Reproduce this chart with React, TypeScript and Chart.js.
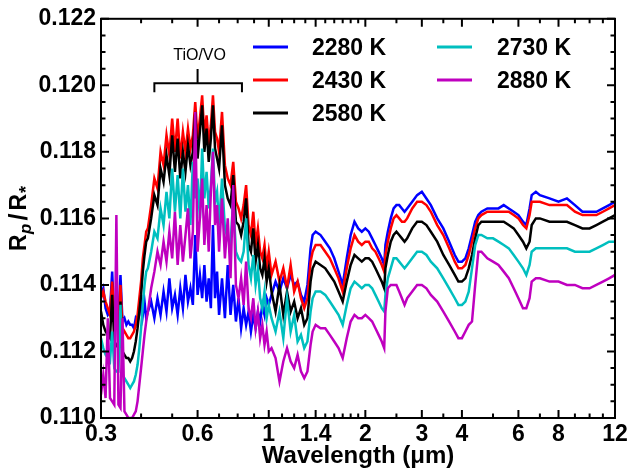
import React, { useEffect, useRef } from "react";
import { Chart, registerables } from "chart.js";

Chart.register(...registerables);

// ---------------- data ----------------
const wavelength = [
  // 0.30 - 0.415
  0.3, 0.305, 0.31, 0.315, 0.32, 0.325, 0.33, 0.335, 0.34, 0.345, 0.35, 0.355,
  0.36, 0.365, 0.37, 0.375, 0.38, 0.385, 0.39, 0.395, 0.4, 0.405, 0.41, 0.415,
  // 0.42 - 1.00 (TiO/VO)
  0.42, 0.43, 0.44, 0.45, 0.46, 0.47, 0.48, 0.49, 0.5, 0.51, 0.52, 0.53, 0.54, 0.55,
  0.56, 0.57, 0.58, 0.59, 0.6, 0.61, 0.62, 0.63, 0.64, 0.65, 0.66, 0.67, 0.68, 0.69, 0.7,
  0.715, 0.73, 0.745, 0.76, 0.775, 0.79, 0.805, 0.82, 0.835, 0.85, 0.865, 0.88, 0.895,
  0.91, 0.925, 0.94, 0.955, 0.97, 0.985, 1.0,
  // 1.02 - 1.40
  1.02, 1.05, 1.08, 1.11, 1.14, 1.17, 1.2, 1.23, 1.26, 1.29, 1.32, 1.35, 1.37, 1.4,
  // 1.45 - 12
  1.45, 1.5, 1.55, 1.6, 1.65, 1.7, 1.75, 1.8, 1.85, 1.9,
  1.95, 2.0, 2.05, 2.1, 2.15, 2.2, 2.25, 2.29, 2.31, 2.35,
  2.4, 2.45, 2.5, 2.55, 2.6, 2.65, 2.7, 2.8, 2.9, 3.0,
  3.1, 3.2, 3.35, 3.5, 3.65, 3.8, 3.9, 4.0, 4.1, 4.2,
  4.3, 4.4, 4.5, 4.6, 4.8, 5.0, 5.2, 5.4, 5.6, 5.8,
  6.0, 6.2, 6.35, 6.5, 6.6, 6.8, 7.0, 7.5, 8.0, 8.5,
  9.0, 9.5, 10, 10.5, 11, 11.5, 12,
];

const rp2280 = [
  0.1137, 0.1139, 0.1133, 0.1131, 0.1132, 0.1144, 0.113, 0.1129, 0.113, 0.1143, 0.1129, 0.113,
  0.1128, 0.1129, 0.1128, 0.1128, 0.1127, 0.113, 0.1129, 0.1131, 0.1137, 0.1131, 0.1135, 0.113,
  0.1132, 0.1135, 0.113, 0.1136, 0.1131, 0.1138, 0.1132, 0.1142, 0.1133, 0.1137, 0.1131, 0.1139, 0.1133, 0.1143,
  0.1135, 0.1139, 0.1134, 0.1155, 0.1137, 0.1143, 0.1136, 0.1146, 0.1135, 0.1142, 0.1133, 0.1158, 0.1136, 0.1144, 0.1131,
  0.1142, 0.113, 0.1146, 0.1131, 0.114, 0.1129, 0.1136, 0.1127, 0.1133, 0.1128, 0.1132, 0.1126, 0.1131,
  0.1127, 0.1132, 0.1129, 0.1134, 0.1131, 0.1136, 0.1134,
  0.1137, 0.1141, 0.1138, 0.1142, 0.1139, 0.1143, 0.114, 0.1141, 0.1137, 0.1135, 0.114, 0.1151, 0.1155, 0.1156,
  0.1155, 0.1153, 0.1151, 0.1148, 0.1144, 0.114, 0.1148, 0.1155, 0.1159, 0.1157,
  0.1156, 0.1157, 0.1156, 0.1154, 0.1152, 0.115, 0.1148, 0.1146, 0.1152, 0.1156,
  0.116, 0.1163, 0.1164, 0.1164, 0.1163, 0.1162, 0.1163, 0.1165, 0.1167, 0.1168,
  0.1166, 0.1164, 0.116, 0.1157, 0.1153, 0.1149, 0.1147, 0.1147, 0.1148, 0.1151,
  0.1155, 0.1159, 0.1161, 0.1162, 0.1163, 0.1163, 0.1163, 0.1164, 0.1163, 0.1162,
  0.1161, 0.1159, 0.1158, 0.1163, 0.1167, 0.1168, 0.1167, 0.1166, 0.1165, 0.1166,
  0.1164, 0.1162, 0.1162, 0.1162, 0.1163, 0.1164, 0.1165,
];

const rp2430 = [
  0.1136, 0.1138, 0.1135, 0.1133, 0.1131, 0.1141, 0.113, 0.1129, 0.1128, 0.114, 0.1127, 0.1126,
  0.1125, 0.1124, 0.1124, 0.1125, 0.1126, 0.1128, 0.1131, 0.1136, 0.1141, 0.1148, 0.1152, 0.1156,
  0.1157, 0.1164, 0.1172, 0.1169, 0.118, 0.1176, 0.1185, 0.1179, 0.119, 0.118, 0.119, 0.1178, 0.1186, 0.118,
  0.1187, 0.1181, 0.1185, 0.1195, 0.1184, 0.119, 0.1197, 0.1185, 0.1191, 0.1182, 0.1188, 0.1197, 0.1186, 0.1184, 0.118,
  0.1192, 0.1176, 0.1172, 0.117, 0.1177, 0.1165, 0.1163, 0.116, 0.1164, 0.117, 0.1158, 0.1155, 0.1162,
  0.1152, 0.1157, 0.115, 0.1148, 0.1152, 0.1145, 0.115,
  0.1143, 0.1147, 0.1141, 0.1145, 0.1139, 0.1146, 0.1138, 0.1141, 0.1136, 0.1133, 0.1136, 0.1147, 0.115, 0.1152,
  0.1152, 0.115, 0.1148, 0.1145, 0.1142, 0.1138, 0.1145, 0.1151, 0.1155, 0.1153,
  0.1152, 0.1153, 0.1153, 0.1151, 0.115, 0.1148, 0.1146, 0.1144, 0.1149, 0.1153,
  0.1157, 0.116, 0.1161, 0.116, 0.1159, 0.1159, 0.116, 0.1163, 0.1165, 0.1165,
  0.1164, 0.1162, 0.1158, 0.1155, 0.1151, 0.1147, 0.1145, 0.1145, 0.1146, 0.1149,
  0.1153, 0.1157, 0.116, 0.1161, 0.1162, 0.1162, 0.1162, 0.1162, 0.1162, 0.1161,
  0.116, 0.1158, 0.1157, 0.1161, 0.1165, 0.1165, 0.1165, 0.1164, 0.1164, 0.1164,
  0.1162, 0.1161, 0.1161, 0.1161, 0.1162, 0.1163, 0.1164,
];

const rp2580 = [
  0.1132, 0.1128, 0.1126, 0.1125, 0.1124, 0.1137, 0.1123, 0.1122, 0.1121, 0.1135, 0.112, 0.1119,
  0.1118, 0.1118, 0.1117, 0.1118, 0.112, 0.1123, 0.1127, 0.1132, 0.1137, 0.1144, 0.1149, 0.1153,
  0.1154, 0.116, 0.1167, 0.1164, 0.1175, 0.1171, 0.1179, 0.1173, 0.1185, 0.1174, 0.1184, 0.1172, 0.118, 0.1174,
  0.1182, 0.1176, 0.118, 0.1192, 0.1178, 0.1186, 0.1194, 0.118, 0.1187, 0.1177, 0.1184, 0.1194, 0.1181, 0.1178, 0.1175,
  0.1188, 0.117, 0.1166, 0.1164, 0.1173, 0.1159, 0.1158, 0.1155, 0.1159, 0.1166, 0.1152, 0.115, 0.1157,
  0.1147, 0.1152, 0.1145, 0.1143, 0.1148, 0.1141, 0.1145,
  0.1138, 0.1132, 0.114, 0.1131, 0.1138, 0.1132, 0.1135, 0.113, 0.1133, 0.1128, 0.113, 0.1141, 0.1145, 0.1147,
  0.1146, 0.1145, 0.1143, 0.1141, 0.1138, 0.1135, 0.1141, 0.1146, 0.1149, 0.1148,
  0.1147, 0.1148, 0.1148, 0.1147, 0.1145, 0.1143, 0.1141, 0.1139, 0.1145, 0.1149,
  0.1153, 0.1155, 0.1156, 0.1155, 0.1154, 0.1153, 0.1154, 0.1157, 0.1159, 0.1159,
  0.1158, 0.1156, 0.1153, 0.1149, 0.1146, 0.1143, 0.1141, 0.1141, 0.1142, 0.1145,
  0.1149, 0.1154, 0.1158, 0.1159, 0.1159, 0.1159, 0.1159, 0.1159, 0.1158, 0.1157,
  0.1155, 0.1153, 0.1151, 0.1153, 0.1158, 0.116, 0.116, 0.1159, 0.1159, 0.1159,
  0.1158, 0.1157, 0.1157, 0.1158, 0.1159, 0.116, 0.1161,
];

const rp2730 = [
  0.1124, 0.1121, 0.1119, 0.1118, 0.1117, 0.1126, 0.1115, 0.1114, 0.1114, 0.1134, 0.1113, 0.1112,
  0.1111, 0.111, 0.1109, 0.111, 0.1111, 0.1113, 0.1116, 0.1121, 0.1127, 0.1134, 0.114, 0.1144,
  0.1145, 0.115, 0.1156, 0.1154, 0.1163, 0.1158, 0.1168, 0.116, 0.1175, 0.1162, 0.1173, 0.116, 0.1175, 0.1162,
  0.117, 0.1158, 0.1177, 0.1166, 0.1172, 0.116, 0.1181, 0.1166, 0.1174, 0.1163, 0.117, 0.1181, 0.1165, 0.1168, 0.1158,
  0.1172, 0.1157, 0.1154, 0.1152, 0.1166, 0.115, 0.1148, 0.1147, 0.115, 0.116, 0.1146, 0.1142, 0.1149,
  0.114, 0.1145, 0.1136, 0.1133, 0.1138, 0.113, 0.1134,
  0.113, 0.1126, 0.1132, 0.1124, 0.1136, 0.1126, 0.1131, 0.1123, 0.1125, 0.1121, 0.1123, 0.1132, 0.1136, 0.1138,
  0.1138, 0.1137, 0.1135, 0.1133, 0.1131, 0.1128, 0.1134, 0.1139, 0.1141, 0.114,
  0.1139, 0.114, 0.114, 0.1139, 0.1137, 0.1135, 0.1133, 0.1132, 0.1137, 0.1142,
  0.1145, 0.1148, 0.1148, 0.1147, 0.1146, 0.1145, 0.1146, 0.1148, 0.115, 0.115,
  0.1149, 0.1147, 0.1145, 0.1142, 0.1139, 0.1136, 0.1134, 0.1134, 0.1135, 0.1138,
  0.1145, 0.1152, 0.1155, 0.1155, 0.1154, 0.1154, 0.1153, 0.1152, 0.1151, 0.1149,
  0.1147, 0.1145, 0.1143, 0.1146, 0.115, 0.1151, 0.1151, 0.1151, 0.1151, 0.1151,
  0.115, 0.115, 0.115, 0.1151, 0.1152, 0.1153, 0.1153,
];

const rp2880 = [
  0.1107, 0.1113, 0.1106, 0.113, 0.1106, 0.1105, 0.1104, 0.1161, 0.1104, 0.1103, 0.113, 0.1102,
  0.1101, 0.11, 0.11, 0.11, 0.1101, 0.1102, 0.1105, 0.111, 0.1115, 0.112, 0.1125, 0.1129,
  0.1132, 0.1139, 0.1144, 0.115, 0.1146, 0.1153, 0.1147, 0.1156, 0.1148, 0.1162, 0.1146, 0.1158, 0.1147, 0.1155,
  0.1163, 0.1148, 0.1156, 0.1192, 0.115, 0.116, 0.1172, 0.1152, 0.1164, 0.115, 0.1168, 0.118, 0.1158, 0.1164, 0.115,
  0.1166, 0.1148, 0.116, 0.1142, 0.117, 0.114, 0.1136, 0.1142, 0.1134, 0.1147, 0.1133, 0.113, 0.1136,
  0.1127, 0.1132, 0.1124, 0.1128, 0.1122, 0.1126, 0.112,
  0.1121, 0.1118, 0.1111, 0.1117, 0.1121, 0.1117, 0.1115, 0.1119, 0.1114, 0.1112, 0.1114, 0.1122, 0.1126, 0.1128,
  0.1127, 0.1127, 0.1125, 0.1123, 0.1121, 0.1118, 0.1124, 0.1129, 0.1131, 0.113,
  0.113, 0.1131, 0.113, 0.1129, 0.1127, 0.1125, 0.1123, 0.1121, 0.1132, 0.1139,
  0.114, 0.114, 0.114, 0.1138, 0.1136, 0.1134, 0.1136, 0.1138, 0.114, 0.114,
  0.1139, 0.1137, 0.1135, 0.1132, 0.1129, 0.1126, 0.1124, 0.1124, 0.1126, 0.1128,
  0.1129, 0.114, 0.115, 0.115, 0.1148, 0.1147, 0.1146, 0.1144, 0.1142, 0.1139,
  0.1136, 0.1133, 0.1133, 0.1136, 0.1141, 0.1142, 0.1142, 0.1141, 0.1141, 0.114,
  0.114, 0.1139, 0.1139, 0.114, 0.1141, 0.1142, 0.1143,
];

const seriesLabels = ["2280 K", "2430 K", "2580 K", "2730 K", "2880 K"];
const seriesValues = [rp2280, rp2430, rp2580, rp2730, rp2880];
const seriesColors = ["#0000ff", "#ff0000", "#000000", "#00bfbf", "#bf00bf"];

const xTickValues = [
  0.3, 0.4, 0.5, 0.6, 0.7, 0.8, 0.9, 1, 1.1, 1.2, 1.3, 1.4, 1.5, 1.6, 1.7, 1.8, 1.9, 2,
  2.5, 3, 3.5, 4, 5, 6, 7, 8, 9, 10, 11, 12,
];
const xLabelValues = [0.3, 0.6, 1, 1.4, 2, 3, 4, 6, 8, 12];
const yTickValues = [
  0.11, 0.1105, 0.111, 0.1115, 0.112, 0.1125, 0.113, 0.1135, 0.114, 0.1145, 0.115, 0.1155,
  0.116, 0.1165, 0.117, 0.1175, 0.118, 0.1185, 0.119, 0.1195, 0.12, 0.1205, 0.121, 0.1215, 0.122,
];
const yLabelValues = [0.11, 0.112, 0.114, 0.116, 0.118, 0.12, 0.122];

// TiO/VO bracket annotation (data coordinates)
const bracketX = [0.44, 0.6, 0.825];
const bracketY = { bar: 0.12006, ends: 0.11979, stem: 0.12049, text: 0.12089 };

const FONT = "'Liberation Sans', Arial, Helvetica, sans-serif";

const isLabel = (list: number[], v: number) => list.some((l) => Math.abs(l - v) < 1e-9);

const decorPlugin = {
  id: "decor",
  afterDraw(chart: any) {
    const { ctx, chartArea, scales } = chart;
    const { left, right, top, bottom } = chartArea;
    const xs = scales.x;
    const ys = scales.y;
    ctx.save();
    // ticks (inward) on all four sides
    ctx.strokeStyle = "#000";
    ctx.lineWidth = 2;
    ctx.beginPath();
    xs.ticks.forEach((t: any) => {
      const px = xs.getPixelForValue(t.value);
      const len = isLabel(xLabelValues, t.value) ? 8 : 4.5;
      ctx.moveTo(px, bottom);
      ctx.lineTo(px, bottom - len);
      ctx.moveTo(px, top);
      ctx.lineTo(px, top + len);
    });
    ys.ticks.forEach((t: any) => {
      const py = ys.getPixelForValue(t.value);
      const len = isLabel(yLabelValues, t.value) ? 8 : 4.5;
      ctx.moveTo(left, py);
      ctx.lineTo(left + len, py);
      ctx.moveTo(right, py);
      ctx.lineTo(right - len, py);
    });
    ctx.stroke();
    ctx.strokeRect(left, top, right - left, bottom - top);

    // TiO/VO bracket
    const bx0 = xs.getPixelForValue(bracketX[0]);
    const bxm = xs.getPixelForValue(bracketX[1]);
    const bx1 = xs.getPixelForValue(bracketX[2]);
    const by = ys.getPixelForValue(bracketY.bar);
    const be = ys.getPixelForValue(bracketY.ends);
    const bs = ys.getPixelForValue(bracketY.stem);
    ctx.lineWidth = 2;
    ctx.beginPath();
    ctx.moveTo(bx0, be);
    ctx.lineTo(bx0, by);
    ctx.lineTo(bx1, by);
    ctx.lineTo(bx1, be);
    ctx.moveTo(bxm, by);
    ctx.lineTo(bxm, bs);
    ctx.stroke();
    ctx.fillStyle = "#000";
    ctx.font = `16px ${FONT}`;
    ctx.textAlign = "center";
    ctx.textBaseline = "middle";
    ctx.fillText("TiO/VO", bxm + 2, ys.getPixelForValue(bracketY.text));

    // legend (two columns)
    const legendPos = [
      { lx: 253, tx: 312, y: 47 },
      { lx: 253, tx: 312, y: 80 },
      { lx: 253, tx: 312, y: 113 },
      { lx: 437, tx: 497, y: 47 },
      { lx: 437, tx: 497, y: 80 },
    ];
    ctx.font = `bold 23px ${FONT}`;
    ctx.textAlign = "left";
    ctx.textBaseline = "alphabetic";
    seriesLabels.forEach((lab, i) => {
      const p = legendPos[i];
      ctx.strokeStyle = seriesColors[i];
      ctx.lineWidth = 3;
      ctx.beginPath();
      ctx.moveTo(p.lx, p.y);
      ctx.lineTo(p.lx + 35, p.y);
      ctx.stroke();
      ctx.fillStyle = "#000";
      ctx.fillText(lab, p.tx, p.y + 8);
    });

    // y-axis title R_p / R_*
    ctx.save();
    ctx.translate(26, 251);
    ctx.rotate(-Math.PI / 2);
    ctx.textAlign = "left";
    ctx.textBaseline = "alphabetic";
    ctx.fillStyle = "#000";
    let cx = 0;
    ctx.font = `bold 23px ${FONT}`;
    ctx.fillText("R", cx, 0);
    cx += ctx.measureText("R").width + 0.5;
    ctx.font = `italic bold 17px ${FONT}`;
    ctx.fillText("p", cx, 5);
    cx += ctx.measureText("p").width + 3;
    ctx.font = `bold 25px ${FONT}`;
    ctx.fillText("/", cx, 1);
    cx += ctx.measureText("/").width + 3;
    ctx.font = `bold 23px ${FONT}`;
    ctx.fillText("R", cx, 0);
    cx += ctx.measureText("R").width + 1;
    ctx.font = `bold 18px ${FONT}`;
    ctx.fillText("*", cx, 6);
    ctx.restore();

    ctx.restore();
  },
};

export default function App() {
  const canvasRef = useRef<HTMLCanvasElement | null>(null);

  useEffect(() => {
    const canvas = canvasRef.current;
    if (!canvas) return;
    const datasets = seriesValues.map((vals, i) => ({
      label: seriesLabels[i],
      data: wavelength.map((w, k) => ({ x: w, y: vals[k] })),
      borderColor: seriesColors[i],
      backgroundColor: seriesColors[i],
      borderWidth: 2.5,
      pointRadius: 0,
      tension: 0,
      fill: false,
      order: seriesValues.length - i,
    }));
    const tickFont = { family: FONT, size: 23, weight: "bold" as const };
    const chart = new Chart(canvas, {
      type: "line",
      data: { datasets },
      options: {
        animation: false,
        responsive: false,
        events: [],
        layout: { padding: { top: 18, right: 17, left: 0, bottom: 0 } },
        plugins: {
          legend: { display: false },
          tooltip: { enabled: false },
        },
        scales: {
          x: {
            type: "logarithmic",
            min: 0.3,
            max: 12,
            afterBuildTicks: (s: any) => {
              s.ticks = xTickValues.map((v) => ({ value: v }));
            },
            afterFit: (s: any) => {
              s.height = 55;
            },
            grid: { display: false, drawTicks: false },
            border: { display: false },
            ticks: {
              autoSkip: false,
              maxRotation: 0,
              minRotation: 0,
              padding: 3,
              color: "#000",
              font: tickFont,
              callback: (v: any) => (isLabel(xLabelValues, Number(v)) ? String(Number(v)) : ""),
            },
            title: {
              display: true,
              text: "Wavelength (μm)",
              color: "#000",
              font: { family: FONT, size: 24, weight: "bold" as const },
              padding: { top: 0, bottom: 2 },
            },
          },
          y: {
            type: "linear",
            min: 0.11,
            max: 0.122,
            afterBuildTicks: (s: any) => {
              s.ticks = yTickValues.map((v) => ({ value: v }));
            },
            afterFit: (s: any) => {
              s.width = 101;
            },
            grid: { display: false, drawTicks: false },
            border: { display: false },
            ticks: {
              autoSkip: false,
              padding: 5,
              color: "#000",
              font: tickFont,
              callback: (v: any) => (isLabel(yLabelValues, Number(v)) ? Number(v).toFixed(3) : ""),
            },
          },
        },
      },
      plugins: [decorPlugin],
    } as any);
    return () => chart.destroy();
  }, []);

  return (
    <div style={{ position: "absolute", left: 0, top: 0, width: 632, height: 473, background: "#fff" }}>
      <canvas ref={canvasRef} width={632} height={473} style={{ display: "block" }} />
    </div>
  );
}
